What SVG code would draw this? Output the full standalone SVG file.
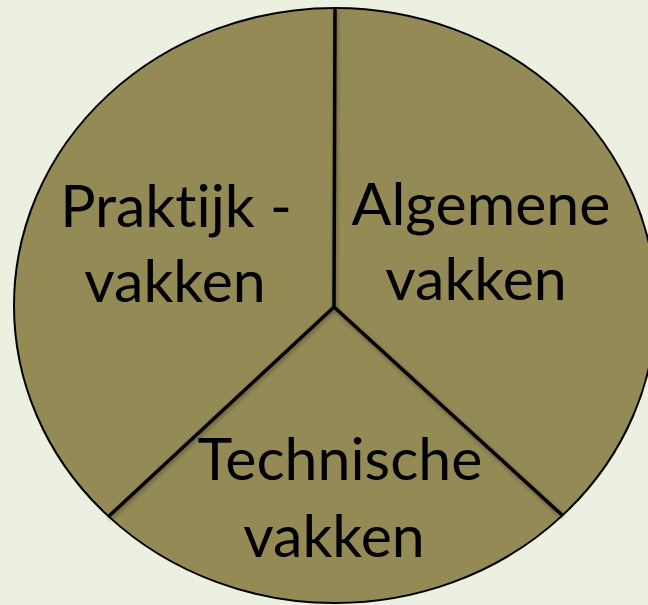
<svg xmlns="http://www.w3.org/2000/svg" width="648" height="605" viewBox="0 0 648 605">
  <style>
    .lbl { font-family: Lato, "Open Sans", "Liberation Sans", sans-serif; font-size: 59px; fill: #000; text-anchor: middle; font-variant-ligatures: none; font-feature-settings: "liga" 0, "clig" 0; }
    .div { stroke: #000; stroke-width: 3.5; fill: none; stroke-linecap: butt; stroke-linejoin: miter; }
  </style>
  <defs>
    <filter id="sh" x="-10%" y="-10%" width="120%" height="120%">
      <feGaussianBlur in="SourceAlpha" stdDeviation="2"/>
      <feOffset dx="1" dy="2" result="b"/>
      <feComponentTransfer><feFuncA type="linear" slope="0.35"/></feComponentTransfer>
      <feMerge><feMergeNode/><feMergeNode in="SourceGraphic"/></feMerge>
    </filter>
  </defs>
  <rect x="0" y="0" width="648" height="605" fill="#EBF0E1"/>
  <g id="circle">
    <ellipse cx="335" cy="305.5" rx="321" ry="297.5" fill="#948A55" stroke="#000" stroke-width="2"/>
  </g>
  <g id="connectors" filter="url(#sh)">
    <path class="div" d="M335 8 L334 307 M334 307 L108 517 M334 307 L562 515"/>
  </g>
  <g id="praktijk">
    <text class="lbl" x="176" y="227">Praktijk -</text>
    <text class="lbl" x="175" y="302">vakken</text>
  </g>
  <g id="algemene">
    <text class="lbl" x="481" y="225">Algemene</text>
    <text class="lbl" x="476" y="300">vakken</text>
  </g>
  <g id="technische">
    <text class="lbl" x="340" y="480">Technische</text>
    <text class="lbl" x="334" y="557">vakken</text>
  </g>
</svg>
